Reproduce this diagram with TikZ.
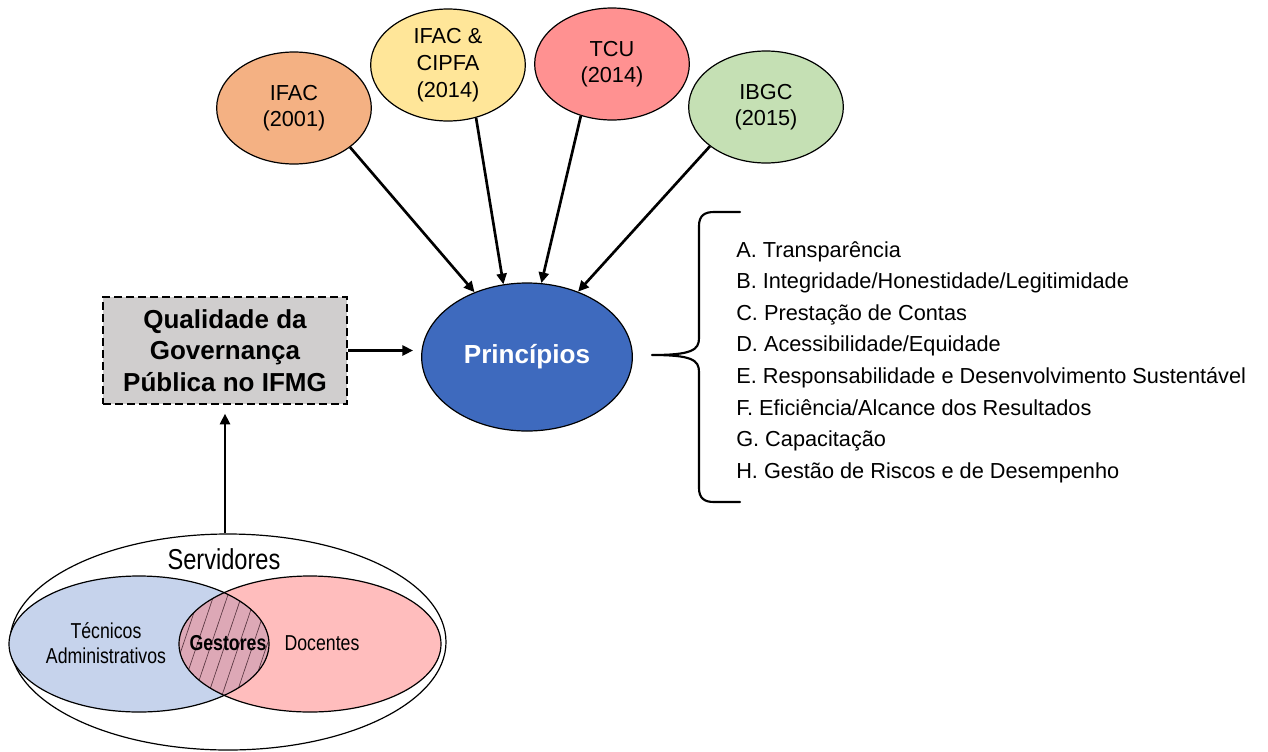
\documentclass[tikz,border=0pt]{standalone}
\usepackage{fontspec}
\setmainfont{Liberation Sans}
\newfontfamily\narrowfont[FakeStretch=0.82]{Liberation Sans}
\usetikzlibrary{arrows.meta,shapes.geometric}
\definecolor{cifac}{RGB}{244,177,131}
\definecolor{ccipfa}{RGB}{255,230,153}
\definecolor{ctcu}{RGB}{255,145,145}
\definecolor{cibgc}{RGB}{197,224,180}
\definecolor{cprinc}{RGB}{62,106,190}
\definecolor{cbox}{RGB}{208,206,206}
\definecolor{cblue}{RGB}{198,211,236}
\definecolor{cpink}{RGB}{255,189,189}
\definecolor{clens}{RGB}{221,168,182}
\definecolor{chatch}{RGB}{90,55,65}
\begin{document}
\begin{tikzpicture}[x=0.75pt,y=-0.75pt,
  src/.style={ellipse, draw, line width=0.9pt, inner sep=0pt, minimum width=116pt,
    minimum height=84pt, align=center, font=\fontsize{16.3}{20}\selectfont},
  arr/.style={line width=2pt, -{Triangle[length=8pt,width=7.5pt]}},
  qbox/.style={draw, dash pattern=on 6pt off 3pt, line width=1.5pt, fill=cbox,
    minimum width=183pt, minimum height=80.25pt, inner sep=0pt, align=center,
    font=\bfseries\fontsize{19.5}{23.6}\selectfont},
  princstyle/.style={ellipse, draw, line width=0.9pt, fill=cprinc, minimum width=158pt,
    minimum height=111pt, inner sep=0pt, text=white,
    font=\bfseries\fontsize{19.6}{24}\selectfont},
  item/.style={anchor=base west, inner sep=0pt, font=\fontsize{16.3}{20}\selectfont},
  vtext/.style={inner sep=0pt, align=center, font=\narrowfont\fontsize{16.2}{18.75}\selectfont},
  bracestyle/.style={line width=1.6pt, line cap=round, line join=round}
]
\useasboundingbox (0,0) rectangle (1268,751);

% source ellipses
\node[src, fill=cifac] (ifac) at (294,108) {IFAC\\(2001)};
\node[src, fill=ccipfa] (cipfa) at (448,65) {IFAC \&\\CIPFA\\(2014)};
\node[src, fill=ctcu] (tcu) at (612,64) {TCU\\(2014)};
\node[src, fill=cibgc] (ibgc) at (766,107) {IBGC\\(2015)};

% principles
\node[princstyle] (princ) at (527,357) {Princípios};

% box
\node[qbox] (box) at (225,350.5) {Qualidade da\\Governança\\Pública no IFMG};

% arrows
\draw[arr] (ifac.-35) -- (princ.129);
\draw[arr] (cipfa.-62) -- (princ.108);
\draw[arr] (tcu.-121) -- (princ.79);
\draw[arr] (ibgc.-145) -- (princ.52);
\draw[arr, shorten >=6pt] (box.east) -- (box.east -| princ.west);

% brace
\draw[bracestyle] (740,212) -- (714,212) .. controls (704,212) and (699,216) .. (699,226)
  -- (699,338) .. controls (699,350) and (692,355) .. (652,355)
  .. controls (692,355) and (699,360) .. (699,372)
  -- (699,488) .. controls (699,498) and (704,502) .. (714,502) -- (740,502);

% list
\node[item] (la) at (736,257) {A. Transparência};
\node[item] (lb) at (736,288) {B. Integridade/Honestidade/Legitimidade};
\node[item] (lc) at (736,320) {C. Prestação de Contas};
\node[item] (ld) at (736,351) {D. Acessibilidade/Equidade};
\node[item] (le) at (736,383) {E. Responsabilidade e Desenvolvimento Sustentável};
\node[item] (lf) at (736,415) {F. Eficiência/Alcance dos Resultados};
\node[item] (lg) at (736,446) {G. Capacitação};
\node[item] (lh) at (736,478) {H. Gestão de Riscos e de Desempenho};

% Venn
\node[ellipse, draw, line width=0.9pt, minimum width=327pt, minimum height=162pt,
  inner sep=0pt] (serv) at (228,642) {};
\fill[cblue] (139,644) ellipse [x radius=97.5pt, y radius=51pt];
\fill[cpink] (310,644) ellipse [x radius=98.25pt, y radius=51pt];
\begin{scope}
  \clip (139,644) ellipse [x radius=97.5pt, y radius=51pt];
  \clip (310,644) ellipse [x radius=98.25pt, y radius=51pt];
  \fill[clens] (150,560) rectangle (300,730);
  \foreach \i in {0,...,12} \draw[chatch, line width=0.5pt] ({128+\i*14},725) -- ({182+\i*14},565);
\end{scope}
\draw[line width=0.9pt] (139,644) ellipse [x radius=97.5pt, y radius=51pt];
\draw[line width=0.9pt] (310,644) ellipse [x radius=98.25pt, y radius=51pt];

\node[vtext, font=\narrowfont\fontsize{21.6}{24}\selectfont] (servt) at (224,559) {Servidores};
\node[vtext] (tec) at (106,643.5) {Técnicos\\Administrativos};
\node[vtext, font=\narrowfont\bfseries\fontsize{16.2}{18}\selectfont] (gest) at (228,643) {Gestores};
\node[vtext] (doc) at (322,643) {Docentes};

\draw[arr, shorten >=6.5pt] (serv.north -| box.south) -- (box.south);
\end{tikzpicture}
\end{document}
